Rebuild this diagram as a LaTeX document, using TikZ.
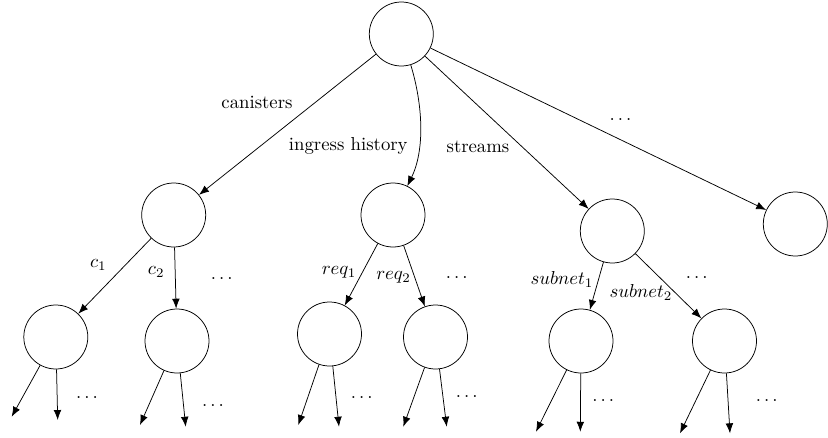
\documentclass[tikz,border=0pt]{standalone}
\usetikzlibrary{arrows.meta}
\begin{document}
\begin{tikzpicture}[x=0.5333pt,y=-0.5333pt,
  tnode/.style={circle,draw,minimum size=34.13pt,inner sep=0pt},
  edge/.style={-{Latex[length=5.3pt,width=4.1pt]}},
  lbl/.style={inner sep=0pt},
  dotlbl/.style={inner sep=0pt,anchor=base}]
\useasboundingbox (0,0) rectangle (828,438);
% nodes
\node[tnode] (root) at (401.3,34) {};
\node[tnode] (can) at (173.7,215) {};
\node[tnode] (ing) at (393,215) {};
\node[tnode] (str) at (612.3,231) {};
\node[tnode] (oth) at (795.3,224) {};
\node[tnode] (c1) at (55.8,337) {};
\node[tnode] (c2) at (177,341) {};
\node[tnode] (r1) at (329.5,334) {};
\node[tnode] (r2) at (435.5,337) {};
\node[tnode] (s1) at (581,341) {};
\node[tnode] (s2) at (724.5,341) {};
% leaf ends
\coordinate (c1a) at (11.7,416.7);
\coordinate (c1b) at (57.7,420);
\coordinate (c2a) at (140,425);
\coordinate (c2b) at (185.7,426.7);
\coordinate (r1a) at (298.3,425);
\coordinate (r1b) at (339,426.7);
\coordinate (r2a) at (403.3,426.7);
\coordinate (r2b) at (446.7,426.7);
\coordinate (s1a) at (536,431.7);
\coordinate (s1b) at (580.3,431.7);
\coordinate (s2a) at (680,433.3);
\coordinate (s2b) at (730,433.3);
% root edges
\draw[edge] (root) -- (can);
\draw[edge] (root) .. controls (423,105) and (425,150) .. (ing);
\draw[edge] (root) -- (str);
\draw[edge] (root) -- (oth);
\node[lbl] at (257,102.5) {canisters};
\node[lbl] at (348.3,146) {ingress history};
\node[lbl] at (478,147) {streams};
\node[dotlbl] at (620.5,120.5) {$\ldots$};
% level 2 edges
\draw[edge] (can) -- (c1);
\draw[edge] (can) -- (c2);
\draw[edge] (ing) -- (r1);
\draw[edge] (ing) -- (r2);
\draw[edge] (str) -- (s1);
\draw[edge] (str) -- (s2);
\node[lbl] at (98.3,265) {$c_1$};
\node[lbl] at (156.2,271.7) {$c_2$};
\node[dotlbl] at (221.7,279.5) {$\ldots$};
\node[lbl] at (339,272) {$req_1$};
\node[lbl] at (393.5,277.5) {$req_2$};
\node[dotlbl] at (456.7,278.5) {$\ldots$};
\node[lbl] at (562,279.5) {$subnet_1$};
\node[lbl] at (641,292.5) {$subnet_2$};
\node[dotlbl] at (696.7,278.5) {$\ldots$};
% leaves
\draw[edge] (c1) -- (c1a);
\draw[edge] (c1) -- (c1b);
\node[dotlbl] at (87,398) {$\ldots$};
\draw[edge] (c2) -- (c2a);
\draw[edge] (c2) -- (c2b);
\node[dotlbl] at (213,406.3) {$\ldots$};
\draw[edge] (r1) -- (r1a);
\draw[edge] (r1) -- (r1b);
\node[dotlbl] at (361.7,398) {$\ldots$};
\draw[edge] (r2) -- (r2a);
\draw[edge] (r2) -- (r2b);
\node[dotlbl] at (466.7,397.3) {$\ldots$};
\draw[edge] (s1) -- (s1a);
\draw[edge] (s1) -- (s1b);
\node[dotlbl] at (603.3,401.3) {$\ldots$};
\draw[edge] (s2) -- (s2a);
\draw[edge] (s2) -- (s2b);
\node[dotlbl] at (766.7,401.3) {$\ldots$};
\end{tikzpicture}
\end{document}
